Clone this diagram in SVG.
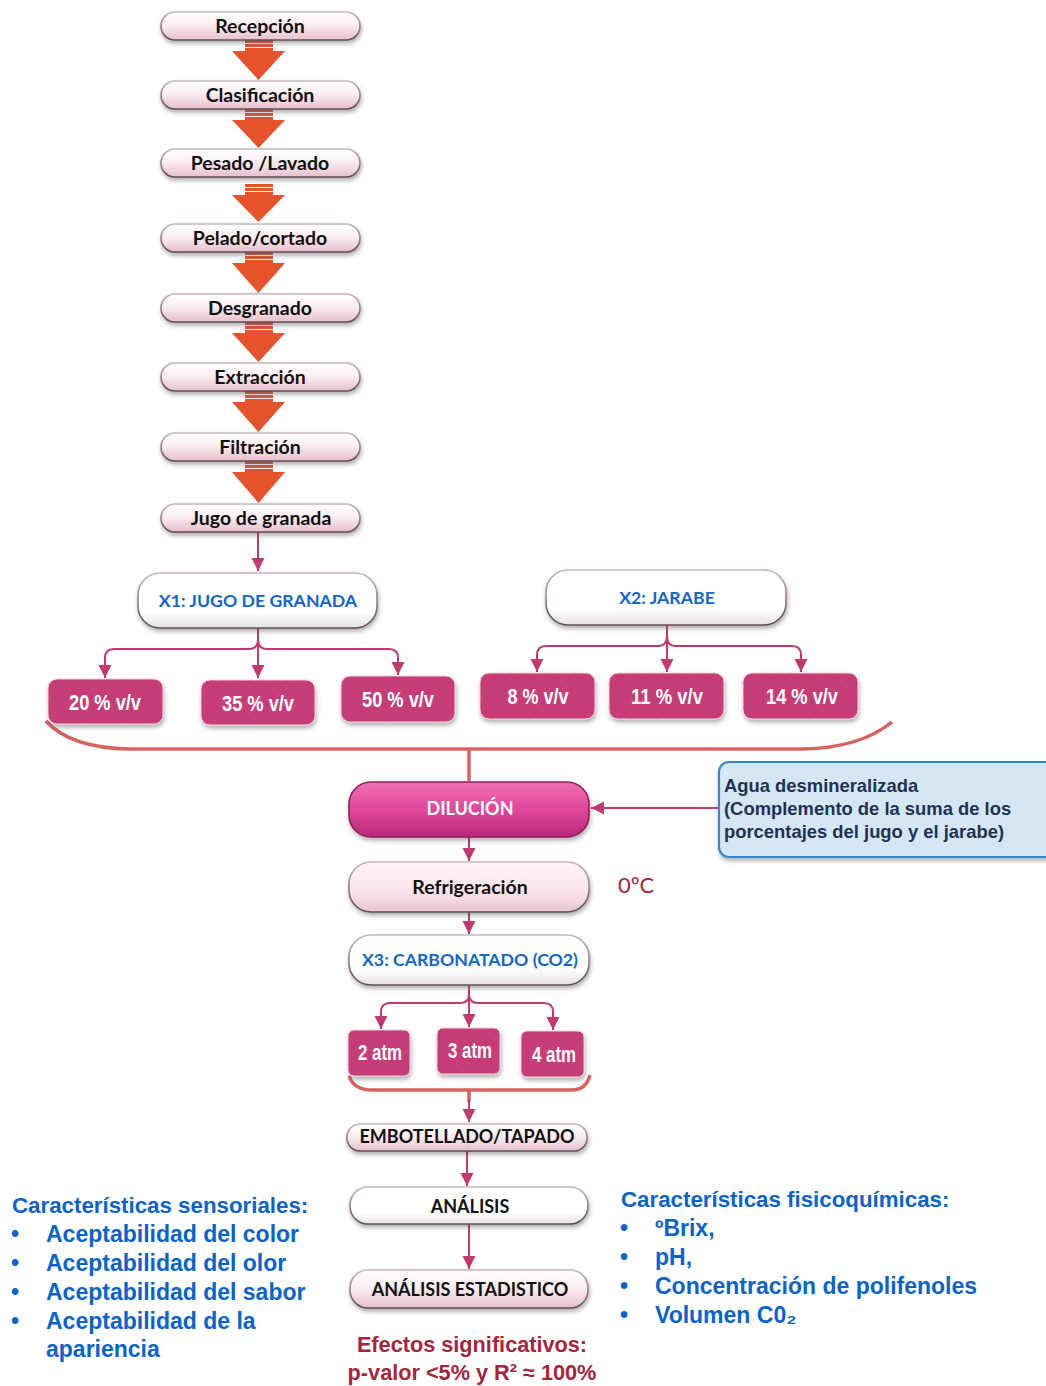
<svg xmlns="http://www.w3.org/2000/svg" width="1046" height="1386" viewBox="0 0 1046 1386">
<defs>
<linearGradient id="gPink" x1="0" y1="0" x2="0" y2="1">
<stop offset="0" stop-color="#ffffff"/><stop offset="0.45" stop-color="#fbeef2"/><stop offset="1" stop-color="#e7bfcc"/>
</linearGradient>
<linearGradient id="gWhite" x1="0" y1="0" x2="0" y2="1">
<stop offset="0" stop-color="#ffffff"/><stop offset="0.7" stop-color="#ffffff"/><stop offset="1" stop-color="#e6e2e4"/>
</linearGradient>
<linearGradient id="gRef" x1="0" y1="0" x2="0" y2="1">
<stop offset="0" stop-color="#fff4f7"/><stop offset="0.6" stop-color="#fbe4eb"/><stop offset="1" stop-color="#e9c3cf"/>
</linearGradient>
<linearGradient id="gDil" x1="0" y1="0" x2="0" y2="1">
<stop offset="0" stop-color="#f070b4"/><stop offset="0.5" stop-color="#e0479b"/><stop offset="1" stop-color="#b9287a"/>
</linearGradient>
<linearGradient id="gEdge" x1="0" y1="0" x2="0" y2="1">
<stop offset="0" stop-color="#c9b7be"/><stop offset="1" stop-color="#5e4e55"/>
</linearGradient>
<pattern id="hatch" patternUnits="userSpaceOnUse" width="9" height="9" patternTransform="rotate(45)">
<line x1="0" y1="0" x2="0" y2="9" stroke="#a8305f" stroke-width="1.2" stroke-opacity="0.35"/>
</pattern>
<filter id="sh" x="-10%" y="-20%" width="125%" height="160%">
<feDropShadow dx="1" dy="3" stdDeviation="2" flood-color="#555" flood-opacity="0.45"/>
</filter>
<marker id="ah" markerUnits="userSpaceOnUse" markerWidth="14" markerHeight="14" viewBox="0 0 14 14" refX="13" refY="7" orient="auto">
<path d="M0,0.5 L13,7 L0,13.5 Z" fill="#c0396f"/>
</marker>
<style>
.pill{fill:url(#gPink);stroke:url(#gEdge);stroke-width:1.6;filter:url(#sh)}
.wpill{fill:url(#gWhite);stroke:url(#gEdge);stroke-width:1.6;filter:url(#sh)}
.rpill{fill:url(#gRef);stroke:url(#gEdge);stroke-width:1.6;filter:url(#sh)}
.lbl{font-family:Lato,"Liberation Sans",sans-serif;font-weight:bold;font-size:19.5px;fill:#111;text-anchor:middle}
.cap{font-family:Lato,"Liberation Sans",sans-serif;font-weight:bold;font-size:18px;fill:#111;text-anchor:middle}
.blue{font-family:Lato,"Liberation Sans",sans-serif;font-weight:bold;font-size:17.7px;fill:#1266c8;text-anchor:middle}
.box{fill:#c63d77;stroke:#f4d6e2;stroke-width:1;filter:url(#sh)}
.hat{fill:url(#hatch)}
.pct{font-family:"Liberation Sans",sans-serif;font-weight:bold;font-size:22px;fill:#fff;text-anchor:middle}
.con{fill:none;stroke:#c0396f;stroke-width:2}
.brk{fill:none;stroke:#d9625f;stroke-width:3.5}
.oa{fill:#e5532d}
.side{font-family:"Liberation Sans",sans-serif;font-weight:bold;font-size:23px;fill:#0a63c9}
.hd{font-size:22.3px}
.agua{font-family:"Liberation Sans",sans-serif;font-weight:bold;font-size:18.4px;fill:#1f3350}
.red{font-family:"Liberation Sans",sans-serif;font-weight:bold;font-size:21.7px;fill:#a3263c;text-anchor:middle}
</style>
</defs>
<rect width="1046" height="1386" fill="#ffffff"/>

<g id="connectors">
<g id="orange-arrows">
<path class="oa" d="M245,40 h28 v3 h-28 z M245,44 h28 v3 h-28 z M245,48 h28 v3 h-28 z M232,51 L285,51 L258.5,80 Z"/>
<path class="oa" d="M245,109 h28 v3 h-28 z M245,113 h28 v3 h-28 z M245,117 h28 v3 h-28 z M232,120 L285,120 L258.5,148 Z"/>
<path class="oa" d="M245,184 h28 v3 h-28 z M245,188 h28 v3 h-28 z M245,192 h28 v3 h-28 z M232,195 L285,195 L258.5,222 Z"/>
<path class="oa" d="M245,252 h28 v3 h-28 z M245,256 h28 v3 h-28 z M245,260 h28 v3 h-28 z M232,263 L285,263 L258.5,293 Z"/>
<path class="oa" d="M245,322 h28 v3 h-28 z M245,326 h28 v3 h-28 z M245,330 h28 v3 h-28 z M232,333 L285,333 L258.5,362 Z"/>
<path class="oa" d="M245,391 h28 v3 h-28 z M245,395 h28 v3 h-28 z M245,399 h28 v3 h-28 z M232,402 L285,402 L258.5,432 Z"/>
<path class="oa" d="M245,461 h28 v3 h-28 z M245,465 h28 v3 h-28 z M245,469 h28 v3 h-28 z M232,472 L285,472 L258.5,503 Z"/>
</g>
<path class="con" d="M258,532 V571" marker-end="url(#ah)"/>
<path class="con" d="M258,628 V678" marker-end="url(#ah)"/>
<path class="con" d="M258,639 Q258,649 249,649 H114 Q105,649 105,658 V678" marker-end="url(#ah)"/>
<path class="con" d="M258,639 Q258,649 267,649 H389 Q398,649 398,658 V675" marker-end="url(#ah)"/>
<path class="con" d="M667,625 V672" marker-end="url(#ah)"/>
<path class="con" d="M667,636 Q667,646 658,646 H546 Q537,646 537,655 V672" marker-end="url(#ah)"/>
<path class="con" d="M667,636 Q667,646 676,646 H792 Q801,646 801,655 V672" marker-end="url(#ah)"/>
<path class="brk" d="M46,721 Q70,748 130,749 H803 Q860,748 892,722"/>
<path class="brk" d="M469,749 V781"/>
<path class="con" d="M719,808 H591" marker-end="url(#ah)"/>
<path class="con" d="M469,837 V861" marker-end="url(#ah)"/>
<path class="con" d="M469,912 V934" marker-end="url(#ah)"/>
<path class="con" d="M469,985 V1027" marker-end="url(#ah)"/>
<path class="con" d="M469,994 Q469,1003 460,1003 H390 Q381,1003 381,1012 V1029" marker-end="url(#ah)"/>
<path class="con" d="M469,994 Q469,1003 478,1003 H544 Q553,1003 553,1012 V1030" marker-end="url(#ah)"/>
<path class="brk" d="M349,1076 Q354,1090 372,1090 H572 Q586,1090 590,1075"/>
<path class="brk" d="M469,1090 V1102"/>
<path class="con" d="M469,1100 V1122" marker-end="url(#ah)"/>
<path class="con" d="M467,1150 V1186" marker-end="url(#ah)"/>
<path class="con" d="M469,1224 V1269" marker-end="url(#ah)"/>
</g>

<g id="n-recepcion"><rect class="pill" x="161" y="12" width="199" height="28" rx="14"/><text class="lbl" x="260" y="33">Recepción</text></g>
<g id="n-clasificacion"><rect class="pill" x="161" y="81" width="199" height="28" rx="14"/><text class="lbl" x="260" y="102">Clasificación</text></g>
<g id="n-pesado"><rect class="pill" x="161" y="149" width="199" height="28" rx="14"/><text class="lbl" x="260" y="170">Pesado /Lavado</text></g>
<g id="n-pelado"><rect class="pill" x="161" y="224" width="199" height="28" rx="14"/><text class="lbl" x="260" y="245">Pelado/cortado</text></g>
<g id="n-desgranado"><rect class="pill" x="161" y="294" width="199" height="28" rx="14"/><text class="lbl" x="260" y="315">Desgranado</text></g>
<g id="n-extraccion"><rect class="pill" x="161" y="363" width="199" height="28" rx="14"/><text class="lbl" x="260" y="384">Extracción</text></g>
<g id="n-filtracion"><rect class="pill" x="161" y="433" width="199" height="28" rx="14"/><text class="lbl" x="260" y="454">Filtración</text></g>
<g id="n-jugo"><rect class="pill" x="161" y="504" width="199" height="28" rx="14"/><text class="lbl" x="261" y="525">Jugo de granada</text></g>

<g id="n-x1"><rect class="wpill" x="138" y="573" width="239" height="55" rx="22"/><text class="blue" x="258" y="607">X1: JUGO DE GRANADA</text></g>
<g id="n-x2"><rect class="wpill" x="546" y="570" width="240" height="55" rx="22"/><text class="blue" x="667" y="604">X2: JARABE</text></g>

<g id="n-20"><rect class="box" x="48" y="679" width="115" height="45" rx="9"/><rect class="hat" x="48" y="679" width="115" height="45" rx="9"/><text class="pct" x="105" y="710" textLength="72" lengthAdjust="spacingAndGlyphs">20 % v/v</text></g>
<g id="n-35"><rect class="box" x="201" y="680" width="114" height="45" rx="9"/><rect class="hat" x="201" y="680" width="114" height="45" rx="9"/><text class="pct" x="258" y="711" textLength="72" lengthAdjust="spacingAndGlyphs">35 % v/v</text></g>
<g id="n-50"><rect class="box" x="341" y="676" width="114" height="46" rx="9"/><rect class="hat" x="341" y="676" width="114" height="46" rx="9"/><text class="pct" x="398" y="707" textLength="72" lengthAdjust="spacingAndGlyphs">50 % v/v</text></g>
<g id="n-8"><rect class="box" x="480" y="673" width="115" height="46" rx="9"/><rect class="hat" x="480" y="673" width="115" height="46" rx="9"/><text class="pct" x="538" y="704" textLength="61" lengthAdjust="spacingAndGlyphs">8 % v/v</text></g>
<g id="n-11"><rect class="box" x="609" y="673" width="115" height="46" rx="9"/><rect class="hat" x="609" y="673" width="115" height="46" rx="9"/><text class="pct" x="667" y="704" textLength="72" lengthAdjust="spacingAndGlyphs">11 % v/v</text></g>
<g id="n-14"><rect class="box" x="743" y="673" width="115" height="46" rx="9"/><rect class="hat" x="743" y="673" width="115" height="46" rx="9"/><text class="pct" x="802" y="704" textLength="72" lengthAdjust="spacingAndGlyphs">14 % v/v</text></g>

<g id="n-dilucion"><rect x="349" y="782" width="240" height="55" rx="22" fill="url(#gDil)" stroke="#8a2358" stroke-width="1.6" filter="url(#sh)"/><text class="cap" x="470" y="815" style="fill:#fff">DILUCIÓN</text></g>
<g id="n-agua"><rect x="719" y="762" width="340" height="95" rx="10" fill="#d5e6f5" stroke="#3a86c8" stroke-width="2.2" filter="url(#sh)"/>
<text class="agua" x="724" y="792">Agua desmineralizada</text>
<text class="agua" x="724" y="815">(Complemento de la suma de los</text>
<text class="agua" x="724" y="838">porcentajes del jugo y el jarabe)</text></g>
<g id="n-refrig"><rect class="rpill" x="349" y="862" width="240" height="50" rx="22"/><text class="lbl" x="470" y="894">Refrigeración</text></g>
<text x="618" y="893" font-family="Lato,'Liberation Sans',sans-serif" font-size="22" fill="#a3263c">0ºC</text>
<g id="n-x3"><rect class="wpill" x="349" y="935" width="240" height="50" rx="22"/><text class="blue" x="470" y="966">X3: CARBONATADO (CO2)</text></g>

<g id="n-2atm"><rect class="box" x="348" y="1030" width="62" height="46" rx="6"/><rect class="hat" x="348" y="1030" width="62" height="46" rx="6"/><text class="pct" x="380" y="1060" textLength="44" lengthAdjust="spacingAndGlyphs">2 atm</text></g>
<g id="n-3atm"><rect class="box" x="437" y="1028" width="63" height="46" rx="6"/><rect class="hat" x="437" y="1028" width="63" height="46" rx="6"/><text class="pct" x="470" y="1058" textLength="44" lengthAdjust="spacingAndGlyphs">3 atm</text></g>
<g id="n-4atm"><rect class="box" x="521" y="1031" width="63" height="46" rx="6"/><rect class="hat" x="521" y="1031" width="63" height="46" rx="6"/><text class="pct" x="554" y="1062" textLength="44" lengthAdjust="spacingAndGlyphs">4 atm</text></g>

<g id="n-embot"><rect class="pill" x="347" y="1124" width="240" height="27" rx="13"/><text class="cap" x="467" y="1143">EMBOTELLADO/TAPADO</text></g>
<g id="n-analisis"><rect class="wpill" x="350" y="1187" width="238" height="37" rx="18"/><text class="cap" x="470" y="1213">ANÁLISIS</text></g>
<g id="n-estad"><rect class="pill" x="350" y="1270" width="238" height="38" rx="18"/><text class="cap" x="470" y="1296">ANÁLISIS ESTADISTICO</text></g>

<g id="sensoriales">
<text class="side hd" x="12" y="1213">Características sensoriales:</text>
<text class="side" x="11" y="1242">•</text><text class="side" x="46" y="1242">Aceptabilidad del color</text>
<text class="side" x="11" y="1271">•</text><text class="side" x="46" y="1271">Aceptabilidad del olor</text>
<text class="side" x="11" y="1300">•</text><text class="side" x="46" y="1300">Aceptabilidad del sabor</text>
<text class="side" x="11" y="1329">•</text><text class="side" x="46" y="1329">Aceptabilidad de la</text>
<text class="side" x="46" y="1357">apariencia</text>
</g>
<g id="fisicoquimicas">
<text class="side hd" x="621" y="1207">Características fisicoquímicas:</text>
<text class="side" x="620" y="1236">•</text><text class="side" x="655" y="1236">ºBrix,</text>
<text class="side" x="620" y="1265">•</text><text class="side" x="655" y="1265">pH,</text>
<text class="side" x="620" y="1294">•</text><text class="side" x="655" y="1294">Concentración de polifenoles</text>
<text class="side" x="620" y="1323">•</text><text class="side" x="655" y="1323">Volumen C0₂</text>
</g>
<g id="efectos">
<text class="red" x="472" y="1352">Efectos significativos:</text>
<text class="red" x="472" y="1380">p-valor &lt;5% y R² ≈ 100%</text>
</g>
</svg>
